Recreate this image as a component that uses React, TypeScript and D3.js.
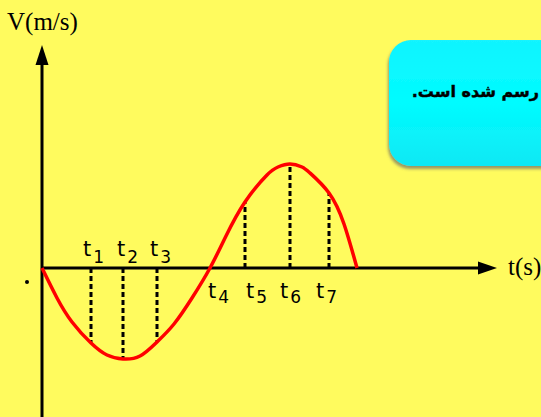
import React from "react";
import * as d3 from "d3";

// Curve samples (t in arbitrary units, v in arbitrary units)
const curveT = [0, 1.5, 3.0, 4.9, 6.5, 8.1, 9.8, 11.5, 13.2, 15.0, 16.8, 18.4, 20.3, 22.5, 23.6, 24.8, 26.0, 26.8, 28.7, 30.2, 31.5];
const curveV = [0, -3.0, -5.4, -7.5, -8.7, -9.1, -8.8, -7.4, -5.6, -3.0, 0, 3.2, 6.6, 9.3, 10.1, 10.4, 10.1, 9.5, 7.5, 4.4, 0];

// Dashed marker times and heights
const markerT = [4.9, 8.1, 11.5, 20.3, 24.8, 28.7];
const markerV = [-7.5, -9.1, -7.4, 6.6, 10.4, 7.5];

// t labels
const labelNames = ["1", "2", "3", "4", "5", "6", "7"];
const labelT = [4.1, 7.5, 10.8, 16.6, 20.4, 23.8, 27.4];
const labelAbove = [true, true, true, false, false, false, false];

const yAxisTitle = "V(m/s)";
const xAxisTitle = "t(s)";
const boxText = "رسم شده است.";

const W = 541;
const H = 417;

export default function App() {
  const x = d3.scaleLinear().domain([0, 45.5]).range([42, 497]);
  const y = d3.scaleLinear().domain([0, 10]).range([268, 168]);

  const pts: [number, number][] = curveT.map((t, i) => [t, curveV[i]]);
  const line = d3
    .line<[number, number]>()
    .x((d) => x(d[0]))
    .y((d) => y(d[1]))
    .curve(d3.curveNatural);

  const x0 = x(0);
  const y0 = y(0);
  const xEnd = x.range()[1];

  return (
    <svg
      width={W}
      height={H}
      style={{ position: "absolute", left: 0, top: 0, display: "block" }}
    >
      <defs>
        <filter id="shadow" x="-20%" y="-20%" width="140%" height="140%">
          <feDropShadow dx="-1" dy="3" stdDeviation="1.5" floodColor="#556" floodOpacity="0.6" />
        </filter>
        <linearGradient id="boxGrad" x1="0" y1="0" x2="0" y2="1">
          <stop offset="0" stopColor="#12f4ff" />
          <stop offset="0.5" stopColor="#00fcff" />
          <stop offset="1" stopColor="#10e8f4" />
        </linearGradient>
      </defs>
      <rect x={0} y={0} width={W} height={H} fill="#FFFB5E" />

      {/* cyan rounded box */}
      <rect
        x={389}
        y={40}
        width={200}
        height={126}
        rx={22}
        ry={22}
        fill="url(#boxGrad)"
        filter="url(#shadow)"
      />
      <text
        x={539}
        y={97}
        direction="rtl"
        textAnchor="start"
        fontFamily="DejaVu Sans, sans-serif"
        fontWeight="bold"
        fontSize={16}
        fill="#000"
        stroke="#000"
        strokeWidth={0.4}
      >
        {boxText}
      </text>

      {/* y axis */}
      <line x1={x0} y1={H} x2={x0} y2={62} stroke="#000" strokeWidth={3} />
      <path d={`M${x0},45 L${x0 - 6.5},65 L${x0 + 6.5},65 Z`} fill="#000" />
      <text x={7} y={30} fontFamily="Liberation Serif, Times New Roman, serif" fontSize={25} fill="#000">
        {yAxisTitle}
      </text>

      {/* x axis */}
      <line x1={x0} y1={y0} x2={xEnd - 16} y2={y0} stroke="#000" strokeWidth={3} />
      <path d={`M${xEnd},${y0} L${xEnd - 19},${y0 - 6.5} L${xEnd - 19},${y0 + 6.5} Z`} fill="#000" />
      <text x={508} y={275} fontFamily="Liberation Serif, Times New Roman, serif" fontSize={25} fill="#000">
        {xAxisTitle}
      </text>

      {/* dashed markers */}
      {markerT.map((t, i) => (
        <line
          key={i}
          x1={x(t)}
          x2={x(t)}
          y1={y0}
          y2={y(markerV[i])}
          stroke="#000"
          strokeWidth={3}
          strokeDasharray="5 3"
        />
      ))}

      {/* curve */}
      <path d={line(pts) || ""} fill="none" stroke="#FF0000" strokeWidth={3.5} />

      {/* labels */}
      {labelNames.map((n, i) => (
        <text
          key={n}
          x={x(labelT[i])}
          y={labelAbove[i] ? 256 : 298}
          fontFamily="DejaVu Sans, sans-serif"
          fill="#000"
        >
          <tspan fontSize={21}>t</tspan>
          <tspan fontSize={17} dx={2} dy={labelAbove[i] ? 7 : 5}>
            {n}
          </tspan>
        </text>
      ))}

      {/* small dot */}
      <circle cx={27} cy={282} r={2} fill="#000" />
    </svg>
  );
}
